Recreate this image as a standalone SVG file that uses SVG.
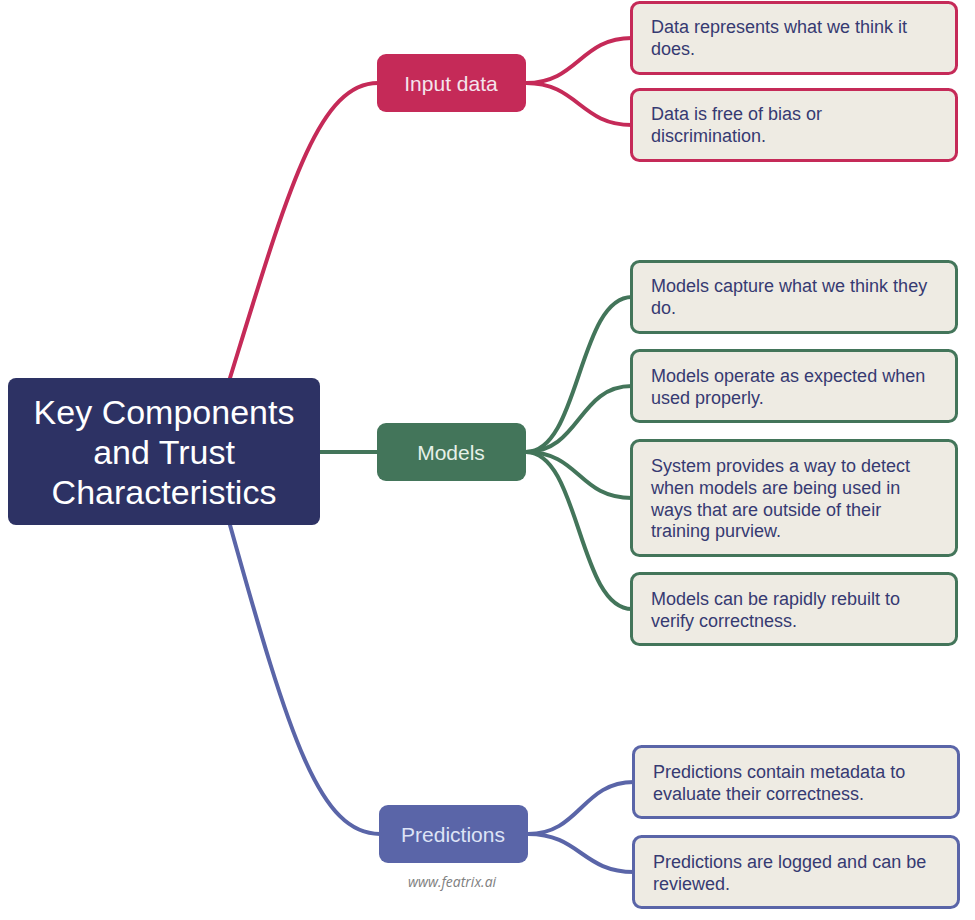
<svg xmlns="http://www.w3.org/2000/svg" width="975" height="920" viewBox="0 0 975 920">
<style>
.t{font-family:"Liberation Sans",Arial,sans-serif}
.leaf{fill:#eeebe3;stroke-width:3}
.lt{font-size:18px;fill:#363a72}
.nt{font-size:21px;text-anchor:middle}
.c{fill:none;stroke-width:4;stroke-linecap:round}
.red{stroke:#c52a58}
.grn{stroke:#43755a}
.blu{stroke:#5a65a8}
</style>
<rect width="975" height="920" fill="#ffffff"/>
<g id="connectors">
<path class="c red" d="M230,378 C288,190 318,83 378,83"/>
<path class="c red" d="M526,83 C578,83 580,38 632,38"/>
<path class="c red" d="M526,83 C578,83 580,125 632,125"/>
<path class="c grn" d="M320,452 L378,452"/>
<path class="c grn" d="M526,452 C580,452 578,297 632,297"/>
<path class="c grn" d="M526,452 C580,452 578,386 632,386"/>
<path class="c grn" d="M526,452 C580,452 578,498 632,498"/>
<path class="c grn" d="M526,452 C580,452 578,609 632,609"/>
<path class="c blu" d="M230,525 C290,740 320,834 380,834"/>
<path class="c blu" d="M528,834 C580,834 582,782 634,782"/>
<path class="c blu" d="M528,834 C580,834 582,872 634,872"/>
</g>
<g id="root">
<rect x="8" y="378" width="312" height="147" rx="8" fill="#2d3264"/>
<text class="t" x="164" y="424" font-size="34" fill="#ffffff" text-anchor="middle">Key Components</text>
<text class="t" x="164" y="464" font-size="34" fill="#ffffff" text-anchor="middle">and Trust</text>
<text class="t" x="164" y="504" font-size="34" fill="#ffffff" text-anchor="middle">Characteristics</text>
</g>
<g id="input-data">
<rect x="377" y="54" width="149" height="58" rx="9" fill="#c52a58"/>
<text class="t nt" x="451" y="91" fill="#f4e4ec">Input data</text>
</g>
<g id="models">
<rect x="377" y="423" width="149" height="58" rx="9" fill="#43755a"/>
<text class="t nt" x="451" y="460" fill="#e6f0e8">Models</text>
</g>
<g id="predictions">
<rect x="379" y="805" width="149" height="58" rx="9" fill="#5a65a8"/>
<text class="t nt" x="453" y="842" fill="#dde3f6">Predictions</text>
</g>
<g id="leaf-data-1">
<rect class="leaf" x="631.5" y="2.5" width="325" height="71" rx="8" stroke="#c52a58"/>
<text class="t lt" x="651" y="33">Data represents what we think it</text>
<text class="t lt" x="651" y="55">does.</text>
</g>
<g id="leaf-data-2">
<rect class="leaf" x="631.5" y="89.5" width="325" height="71" rx="8" stroke="#c52a58"/>
<text class="t lt" x="651" y="120">Data is free of bias or</text>
<text class="t lt" x="651" y="142">discrimination.</text>
</g>
<g id="leaf-models-1">
<rect class="leaf" x="631.5" y="261.5" width="325" height="71" rx="8" stroke="#43755a"/>
<text class="t lt" x="651" y="292">Models capture what we think they</text>
<text class="t lt" x="651" y="314">do.</text>
</g>
<g id="leaf-models-2">
<rect class="leaf" x="631.5" y="350.5" width="325" height="71" rx="8" stroke="#43755a"/>
<text class="t lt" x="651" y="382">Models operate as expected when</text>
<text class="t lt" x="651" y="404">used properly.</text>
</g>
<g id="leaf-models-3">
<rect class="leaf" x="631.5" y="440.5" width="325" height="115" rx="8" stroke="#43755a"/>
<text class="t lt" x="651" y="472">System provides a way to detect</text>
<text class="t lt" x="651" y="494">when models are being used in</text>
<text class="t lt" x="651" y="516">ways that are outside of their</text>
<text class="t lt" x="651" y="537">training purview.</text>
</g>
<g id="leaf-models-4">
<rect class="leaf" x="631.5" y="573.5" width="325" height="71" rx="8" stroke="#43755a"/>
<text class="t lt" x="651" y="605">Models can be rapidly rebuilt to</text>
<text class="t lt" x="651" y="627">verify correctness.</text>
</g>
<g id="leaf-pred-1">
<rect class="leaf" x="633.5" y="746.5" width="325" height="71" rx="8" stroke="#5a65a8"/>
<text class="t lt" x="653" y="778">Predictions contain metadata to</text>
<text class="t lt" x="653" y="800">evaluate their correctness.</text>
</g>
<g id="leaf-pred-2">
<rect class="leaf" x="633.5" y="836.5" width="325" height="71" rx="8" stroke="#5a65a8"/>
<text class="t lt" x="653" y="868">Predictions are logged and can be</text>
<text class="t lt" x="653" y="890">reviewed.</text>
</g>
<text x="452" y="887" font-family="'Open Sans',sans-serif" font-style="italic" font-weight="400" font-size="14" fill="#808080" text-anchor="middle">www.featrix.ai</text>
</svg>
